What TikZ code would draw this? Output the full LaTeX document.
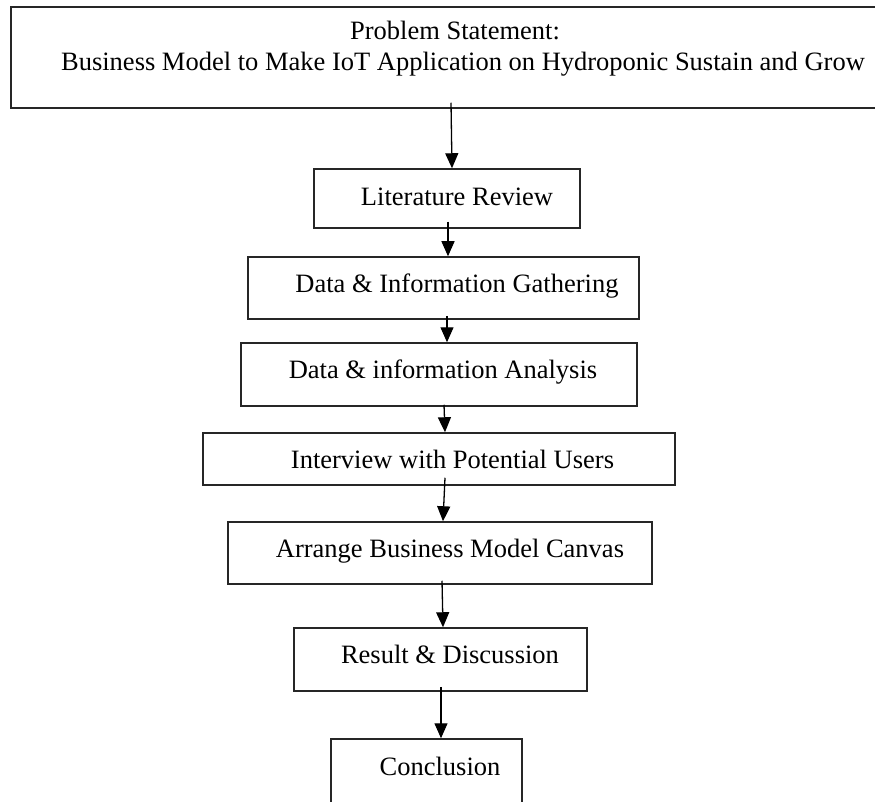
\documentclass[tikz,border=0pt]{standalone}
\usepackage{fontspec}
\setmainfont{Liberation Serif}
\usetikzlibrary{arrows.meta}
\begin{document}
\begin{tikzpicture}[x=1pt,y=-1pt,
  box/.style={draw=black!85, line width=1.5pt, inner sep=0pt},
  txt/.style={anchor=base, inner sep=0pt, font=\fontsize{26.5}{31}\selectfont},
  arr/.style={draw=black, line width=1.3pt, -{Triangle[length=15pt,width=13pt]}}]
\useasboundingbox (0,0) rectangle (875,802);
% boxes (corners measured in pixels)
\node[box, minimum width=869pt, minimum height=101pt] (ps) at (445.5,57.5) {};
\node[box, minimum width=266pt, minimum height=59pt] (lit) at (447,198.5) {};
\node[box, minimum width=391pt, minimum height=62pt] (gat) at (443.5,288) {};
\node[box, minimum width=396pt, minimum height=63pt] (ana) at (439,374.5) {};
\node[box, minimum width=472pt, minimum height=52pt] (int) at (439,459) {};
\node[box, minimum width=424pt, minimum height=62pt] (arr) at (440,553) {};
\node[box, minimum width=293pt, minimum height=63pt] (res) at (440.5,659.5) {};
\node[box, minimum width=191pt, minimum height=90pt] (con) at (426.5,784) {};
% texts
\node[txt] (t0a) at (455,40) {Problem Statement:};
\node[txt] (t0b) at (463,71) {Business Model to Make IoT Application on Hydroponic Sustain and Grow};
\node[txt] (t1) at (457,206) {Literature Review};
\node[txt] (t2) at (457,293) {Data \& Information Gathering};
\node[txt] (t3) at (443,378) {Data \& information Analysis};
\node[txt] (t4) at (452.5,468) {Interview with Potential Users};
\node[txt] (t5) at (450,557) {Arrange Business Model Canvas};
\node[txt] (t6) at (450,663) {Result \& Discussion};
\node[txt] (t7) at (440,775) {Conclusion};
% connectors
\draw[arr] ([xshift=5.5pt,yshift=6pt]ps.south) -- ([xshift=5pt]lit.north);
\draw[arr] ([xshift=1pt,yshift=7pt]lit.south) -- ([xshift=4.5pt]gat.north);
\draw[arr] ([xshift=3.5pt,yshift=4pt]gat.south) -- ([xshift=8pt]ana.north);
\draw[arr] ([xshift=5pt,yshift=2pt]ana.south) -- ([xshift=6pt]int.north);
\draw[arr] ([xshift=6pt,yshift=8pt]int.south) -- ([xshift=3pt]arr.north);
\draw[arr] ([xshift=2pt,yshift=4pt]arr.south) -- ([xshift=2.5pt]res.north);
\draw[arr] ([xshift=0.5pt,yshift=5pt]res.south) -- ([xshift=14.5pt]con.north);
\end{tikzpicture}
\end{document}
